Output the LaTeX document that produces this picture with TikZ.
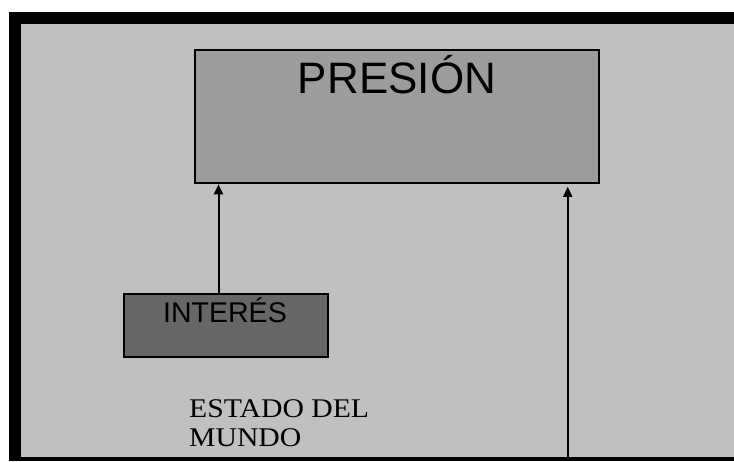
\documentclass[tikz,border=0pt]{standalone}
\usepackage{fontspec}
\setmainfont{Liberation Serif}
\newfontfamily\arialfont{Liberation Sans}
\newfontfamily\serifwide[FakeStretch=1.1]{Liberation Serif}
\usetikzlibrary{arrows.meta,calc}
\definecolor{bggray}{HTML}{C0C0C0}
\definecolor{boxgray}{HTML}{9C9C9C}
\definecolor{darkbox}{HTML}{666666}
\tikzset{
  panel/.style={draw=black, line width=1.6pt, inner sep=0pt},
  conn/.style={line width=2pt, -{Triangle[length=10pt,width=9pt]}},
}
\begin{document}
\begin{tikzpicture}[x=1pt,y=-1pt]
\useasboundingbox (0,0) rectangle (734,461);
\fill[white] (0,0) rectangle (734,461);
% black frame
\fill[black] (9,12) rectangle (734,461);
\fill[bggray] (21,24) rectangle (734,457);
% boxes
\node[panel, fill=boxgray, minimum width=404pt, minimum height=133pt] (presion) at (397,116.5) {};
\node[anchor=base, font=\arialfont\fontsize{44}{50}\selectfont] (presiontxt) at (397,93) {PRESIÓN};
\node[panel, fill=darkbox, minimum width=204pt, minimum height=63pt] (interes) at (226,325.5) {};
\node[anchor=base, font=\arialfont\fontsize{28.5}{32}\selectfont] (interestxt) at (225,322) {INTERÉS};
% text
\node[anchor=base west, inner sep=0pt, font=\serifwide\fontsize{27}{29}\selectfont] (estado1) at (189,417) {ESTADO DEL};
\node[anchor=base west, inner sep=0pt, font=\serifwide\fontsize{27}{29}\selectfont] (estado2) at (189,446) {MUNDO};
% connectors
\coordinate (a1) at (218.5,0);
\coordinate (a2start) at (567.7,457);
\draw[conn] (interes.north -| a1) -- ($(presion.south -| a1)+(0,0.5)$);
\draw[conn] (a2start) -- ($(presion.south -| a2start)+(0,3)$);
\end{tikzpicture}
\end{document}
